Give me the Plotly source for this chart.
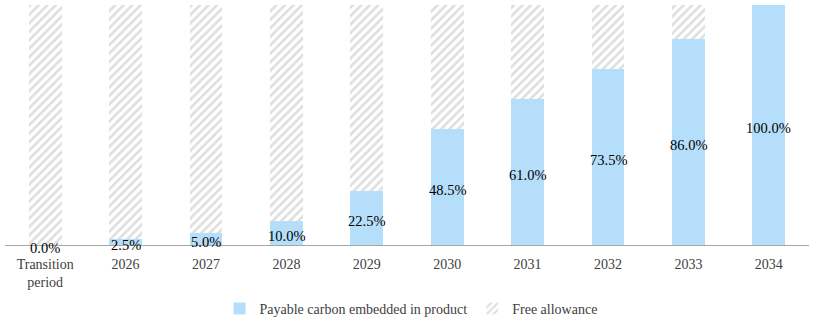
import plotly.graph_objects as go

# Phase-in schedule of the carbon border charge
categories = ["Transition<br>period", "2026", "2027", "2028", "2029",
              "2030", "2031", "2032", "2033", "2034"]
payable = [0.0, 2.5, 5.0, 10.0, 22.5, 48.5, 61.0, 73.5, 86.0, 100.0]
free_allowance = [100.0 - p for p in payable]
labels = [f"{p:.1f}%" for p in payable]

FONT = "Liberation Serif, Times New Roman, serif"
BLUE = "#B5DEFB"

fig = go.Figure()
fig.add_trace(go.Bar(
    x=categories, y=payable, name="Payable carbon embedded in product",
    marker=dict(color=BLUE, line=dict(width=0)),
))
fig.add_trace(go.Bar(
    x=categories, y=free_allowance, name="Free allowance",
    marker=dict(color="white", line=dict(width=0),
                pattern=dict(shape="/", fgcolor="#BDBDBD", bgcolor="white",
                             size=6, solidity=0.42)),
))

# Percentage labels centred on the payable segment
# (category index is used as x so year-like names are not read as numbers)
for i, (p, lab) in enumerate(zip(payable, labels)):
    fig.add_annotation(
        x=i, y=p / 2, text=lab, showarrow=False, yshift=-3,
        font=dict(family=FONT, size=14.5, color="#000000"),
    )

fig.update_layout(
    width=817, height=320,
    barmode="stack", bargap=0.59,
    plot_bgcolor="white", paper_bgcolor="white",
    margin=dict(l=5, r=8, t=5, b=75, autoexpand=False),
    font=dict(family=FONT, size=14, color="#404040"),
    xaxis=dict(type="category", showline=True, linecolor="#A6A6A6", linewidth=1,
               ticks="", showgrid=False, ticklabelstandoff=6,
               range=[-0.5, len(categories) - 0.5],
               tickfont=dict(size=14, color="#404040")),
    yaxis=dict(range=[0, 100], visible=False, showgrid=False),
    legend=dict(orientation="h", x=0.505, xanchor="center",
                y=-0.2, yanchor="top",
                font=dict(size=14, color="#404040"), traceorder="normal",
                itemwidth=30),
)

fig.write_html("out.html")
